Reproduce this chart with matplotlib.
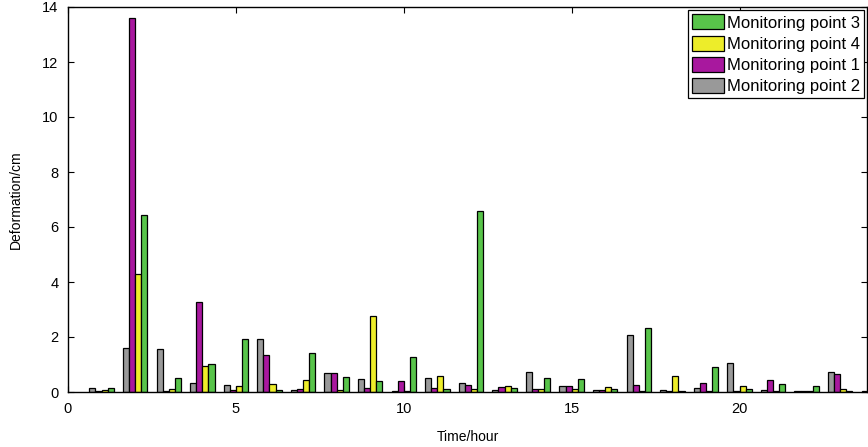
import numpy as np
import matplotlib
matplotlib.use("Agg")
import matplotlib.pyplot as plt

plt.rcParams['font.family'] = ['Liberation Sans', 'DejaVu Sans']

hours = list(range(1, 25))
point2 = [0.13, 1.60, 1.55, 0.34, 0.27, 1.93, 0.06, 0.69, 0.46, 0.03, 0.52, 0.34,
          0.06, 0.73, 0.22, 0.07, 2.08, 0.07, 0.13, 1.05, 0.07, 0.05, 0.73, 0.03]
point1 = [0.02, 13.60, 0.04, 3.28, 0.08, 1.35, 0.10, 0.69, 0.13, 0.39, 0.16, 0.24,
          0.18, 0.12, 0.22, 0.06, 0.27, 0.03, 0.34, 0.02, 0.44, 0.05, 0.66, 0.02]
point4 = [0.06, 4.30, 0.10, 0.93, 0.21, 0.30, 0.44, 0.07, 2.78, 0.02, 0.57, 0.10,
          0.21, 0.12, 0.10, 0.20, 0.05, 0.57, 0.02, 0.22, 0.05, 0.05, 0.10, 0.02]
point3 = [0.13, 6.45, 0.50, 1.03, 1.92, 0.06, 1.42, 0.55, 0.40, 1.26, 0.10, 6.58,
          0.15, 0.51, 0.48, 0.12, 2.34, 0.02, 0.91, 0.10, 0.28, 0.22, 0.05, 0.02]

series = [("Monitoring point 2", point2, "#999999"),
          ("Monitoring point 1", point1, "#a8189e"),
          ("Monitoring point 4", point4, "#eded2a"),
          ("Monitoring point 3", point3, "#58c44a")]

fig = plt.figure(figsize=(8.68, 4.47), dpi=100)
ax = fig.add_axes([68/868, 55/447, 1 - 68/868 - 0.001, (392-7)/447])

x = np.array(hours, dtype=float)
n = len(series)
gw = n / (n + 1.5)
bw = gw / n
handles = {}
for i, (lab, vals, col) in enumerate(series):
    off = (i - (n - 1) / 2) * bw
    b = ax.bar(x + off, vals, width=bw, color=col, edgecolor='black',
               linewidth=0.9, label=lab)
    handles[lab] = b

ax.set_xlim(0, 23.8)
ax.set_ylim(0, 14)
ax.set_xticks([0, 5, 10, 15, 20])
ax.set_yticks(range(0, 15, 2))
ax.tick_params(direction='in', top=True, right=True, labelsize=10.5, length=4, pad=7)
for s in ax.spines.values():
    s.set_linewidth(1.0)
ax.set_xlabel("Time/hour", fontsize=10, labelpad=10)
ax.set_ylabel("Deformation/cm", fontsize=10, labelpad=14)

order = ["Monitoring point 3", "Monitoring point 4", "Monitoring point 1", "Monitoring point 2"]
leg = ax.legend([handles[o] for o in order], order, loc='upper right',
                fontsize=12, fancybox=False, edgecolor='black', framealpha=1,
                handlelength=1.9, handleheight=1.0, handletextpad=0.15,
                labelspacing=0.3, borderpad=0.25, borderaxespad=0.2)
leg.get_frame().set_linewidth(0.9)

fig.savefig("out.png", dpi=100)
